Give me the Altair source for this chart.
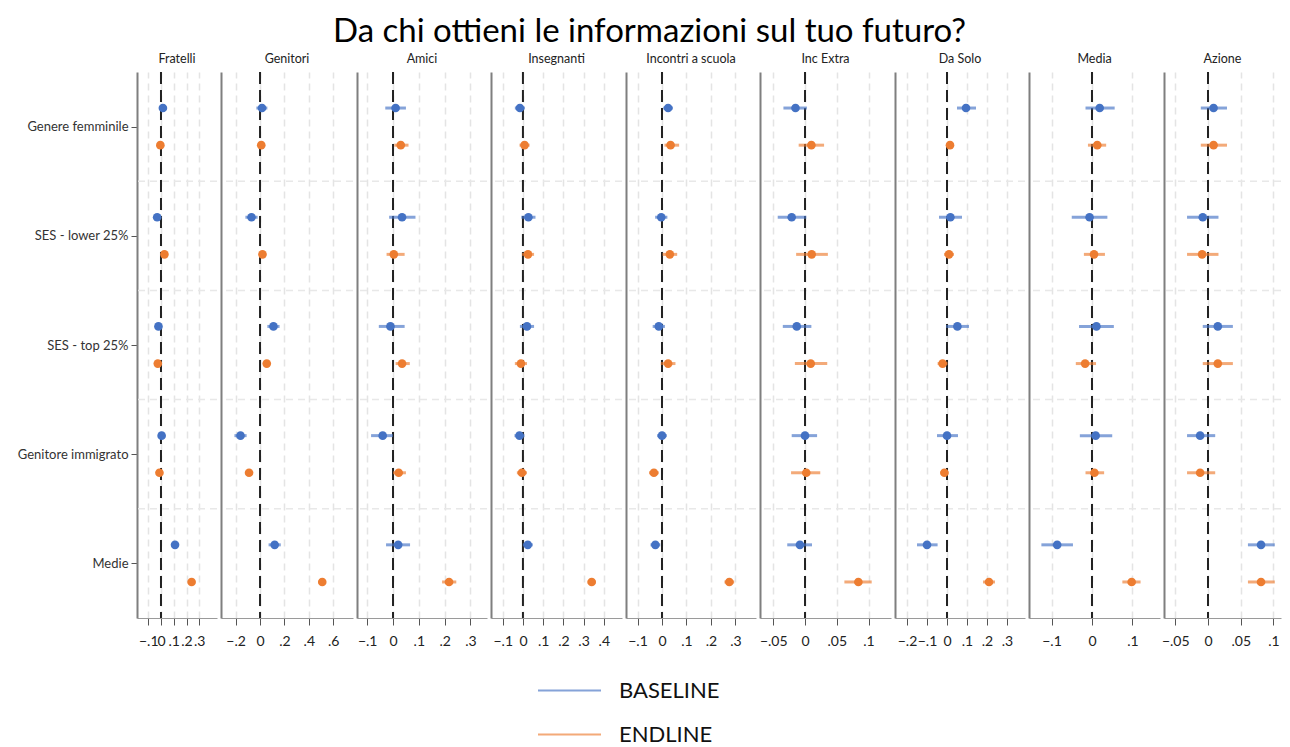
import json
import altair as alt
import pandas as pd

TITLE = "Da chi ottieni le informazioni sul tuo futuro?"
panels = ["Fratelli", "Genitori", "Amici", "Insegnanti", "Incontri a scuola",
          "Inc Extra", "Da Solo", "Media", "Azione"]
groups = ["Genere femminile", "SES - lower 25%", "SES - top 25%",
          "Genitore immigrato", "Medie"]
waves = ["BASELINE", "ENDLINE"]

# coefficient estimates and confidence intervals, one list per panel (order = groups)
base_coef = {
    "Fratelli": [0.015, -0.03, -0.02, 0.005, 0.11],
    "Genitori": [0.016, -0.07, 0.11, -0.16, 0.12],
    "Amici": [0.01, 0.035, -0.01, -0.04, 0.02],
    "Insegnanti": [-0.015, 0.027, 0.02, -0.017, 0.024],
    "Incontri a scuola": [0.025, -0.003, -0.013, 0.0, -0.027],
    "Inc Extra": [-0.015, -0.021, -0.013, 0.0, -0.008],
    "Da Solo": [0.095, 0.017, 0.052, 0.0, -0.10],
    "Media": [0.019, -0.006, 0.011, 0.009, -0.086],
    "Azione": [0.0085, -0.008, 0.015, -0.012, 0.081],
}
base_lo = {
    "Fratelli": [-0.015, -0.055, -0.045, -0.02, 0.085],
    "Genitori": [-0.03, -0.12, 0.06, -0.21, 0.07],
    "Amici": [-0.03, -0.015, -0.055, -0.085, -0.027],
    "Insegnanti": [-0.04, -0.008, -0.015, -0.042, -0.001],
    "Incontri a scuola": [0.005, -0.028, -0.038, -0.02, -0.047],
    "Inc Extra": [-0.034, -0.043, -0.035, -0.021, -0.028],
    "Da Solo": [0.05, -0.04, -0.005, -0.05, -0.15],
    "Media": [-0.016, -0.05, -0.032, -0.03, -0.125],
    "Azione": [-0.011, -0.032, -0.008, -0.032, 0.061],
}
base_hi = {
    "Fratelli": [0.045, -0.005, 0.005, 0.03, 0.135],
    "Genitori": [0.06, -0.02, 0.16, -0.11, 0.17],
    "Amici": [0.05, 0.087, 0.045, 0.0, 0.066],
    "Insegnanti": [0.01, 0.062, 0.055, 0.008, 0.049],
    "Incontri a scuola": [0.045, 0.022, 0.012, 0.02, -0.007],
    "Inc Extra": [0.003, 0.002, 0.01, 0.019, 0.011],
    "Da Solo": [0.145, 0.075, 0.11, 0.055, -0.047],
    "Media": [0.056, 0.038, 0.054, 0.05, -0.047],
    "Azione": [0.029, 0.016, 0.038, 0.011, 0.102],
}
end_coef = {
    "Fratelli": [-0.005, 0.027, -0.025, -0.012, 0.24],
    "Genitori": [0.01, 0.02, 0.055, -0.09, 0.51],
    "Amici": [0.03, 0.003, 0.035, 0.022, 0.217],
    "Insegnanti": [0.008, 0.025, -0.01, -0.005, 0.34],
    "Incontri a scuola": [0.035, 0.032, 0.025, -0.033, 0.275],
    "Inc Extra": [0.01, 0.0105, 0.009, 0.002, 0.084],
    "Da Solo": [0.015, 0.01, -0.022, -0.013, 0.21],
    "Media": [0.013, 0.005, -0.017, 0.006, 0.098],
    "Azione": [0.0085, -0.009, 0.015, -0.012, 0.081],
}
end_lo = {
    "Fratelli": [-0.02, 0.012, -0.04, -0.027, 0.225],
    "Genitori": [-0.015, -0.01, 0.025, -0.12, 0.48],
    "Amici": [0.005, -0.025, 0.01, 0.0, 0.19],
    "Insegnanti": [-0.017, -0.005, -0.04, -0.03, 0.32],
    "Incontri a scuola": [0.01, 0.002, -0.005, -0.053, 0.255],
    "Inc Extra": [-0.01, -0.014, -0.016, -0.022, 0.062],
    "Da Solo": [-0.005, -0.015, -0.047, -0.033, 0.18],
    "Media": [-0.01, -0.02, -0.04, -0.016, 0.075],
    "Azione": [-0.011, -0.032, -0.008, -0.032, 0.061],
}
end_hi = {
    "Fratelli": [0.01, 0.042, -0.01, 0.003, 0.255],
    "Genitori": [0.035, 0.05, 0.085, -0.06, 0.54],
    "Amici": [0.06, 0.045, 0.065, 0.05, 0.245],
    "Insegnanti": [0.033, 0.055, 0.02, 0.02, 0.36],
    "Incontri a scuola": [0.07, 0.062, 0.055, -0.013, 0.295],
    "Inc Extra": [0.03, 0.036, 0.035, 0.024, 0.105],
    "Da Solo": [0.035, 0.035, 0.003, 0.007, 0.24],
    "Media": [0.035, 0.032, 0.01, 0.03, 0.12],
    "Azione": [0.029, 0.016, 0.038, 0.011, 0.102],
}
ticks = {
    "Fratelli": [-0.1, 0, 0.1, 0.2, 0.3],
    "Genitori": [-0.2, 0, 0.2, 0.4, 0.6],
    "Amici": [-0.1, 0, 0.1, 0.2, 0.3],
    "Insegnanti": [-0.1, 0, 0.1, 0.2, 0.3, 0.4],
    "Incontri a scuola": [-0.1, 0, 0.1, 0.2, 0.3],
    "Inc Extra": [-0.05, 0, 0.05, 0.1],
    "Da Solo": [-0.2, -0.1, 0, 0.1, 0.2, 0.3],
    "Media": [-0.1, 0, 0.1],
    "Azione": [-0.05, 0, 0.05, 0.1],
}

# layout (pixel widths and visible x ranges of each panel)
panel_width = [80, 132, 130, 131, 130, 131, 130, 131, 117]
panel_domain = [[-0.188, 0.439], [-0.320, 0.762], [-0.1395, 0.364], [-0.158, 0.490],
                [-0.147, 0.384], [-0.0709, 0.1354], [-0.26, 0.39], [-0.1556, 0.168],
                [-0.0672, 0.1115]]
PLOT_H = 546
FONT = "Lato"
BLUE = "#4472C4"
ORANGE = "#ED7D31"
OFF = 0.17

rows = []
for p in panels:
    for gi, g in enumerate(groups):
        rows.append(dict(panel=p, group=g, wave=waves[0], pos=gi + 0.5 - OFF,
                         coef=base_coef[p][gi], lo=base_lo[p][gi], hi=base_hi[p][gi]))
        rows.append(dict(panel=p, group=g, wave=waves[1], pos=gi + 0.5 + OFF,
                         coef=end_coef[p][gi], lo=end_lo[p][gi], hi=end_hi[p][gi]))
df = pd.DataFrame(rows)
sep_df = pd.DataFrame({"sep": [1, 2, 3, 4]})
zero_df = pd.DataFrame({"z": [0]})

label_expr = json.dumps(groups) + "[floor(datum.value)]"
x_label_expr = "replace(format(datum.value, ''), '0.', '.')"
color_scale = alt.Scale(domain=waves, range=[BLUE, ORANGE])

charts = []
for k, p in enumerate(panels):
    d = df[df.panel == p]
    xscale = alt.Scale(domain=panel_domain[k], nice=False, zero=False)
    yscale = alt.Scale(domain=[0, 5], reverse=True, nice=False, zero=False)
    xaxis = alt.Axis(values=ticks[p], tickCount=20, title=None, grid=True,
                     labelExpr=x_label_expr,
                     gridColor="#e4e4e4", gridDash=[7, 5], gridWidth=1.5,
                     tickColor="#555555", tickSize=7, tickWidth=1,
                     labelFontSize=14, labelColor="#222222", labelPadding=9,
                     domain=True, domainColor="#9a9a9a", domainWidth=1,
                     labelFlush=False, labelOverlap=False)
    if k == 0:
        yaxis = alt.Axis(values=[0.5, 1.5, 2.5, 3.5, 4.5], tickCount=20,
                         labelExpr=label_expr,
                         title=None, grid=False, ticks=True, tickSize=6,
                         tickColor="#555555", labelFontSize=13, labelColor="#333333",
                         labelPadding=3, domainColor="#7f7f7f", domainWidth=2)
    else:
        yaxis = alt.Axis(labels=False, ticks=False, grid=False, title=None,
                         domainColor="#7f7f7f", domainWidth=2)

    seps = alt.Chart(sep_df).mark_rule(color="#e8e8e8", strokeDash=[7, 5],
                                       strokeWidth=1.5).encode(
        y=alt.Y("sep:Q", scale=yscale, axis=yaxis))
    zero = alt.Chart(zero_df).mark_rule(color="#222222", strokeDash=[12, 6],
                                        strokeWidth=2).encode(
        x=alt.X("z:Q", scale=xscale, axis=xaxis))
    ci = alt.Chart(d).mark_rule(strokeWidth=3, opacity=0.65).encode(
        x=alt.X("lo:Q", scale=xscale),
        x2="hi:Q",
        y=alt.Y("pos:Q", scale=yscale),
        color=alt.Color("wave:N", scale=color_scale, legend=alt.Legend(title=None)))
    pts = alt.Chart(d).mark_circle(size=75, opacity=1).encode(
        x=alt.X("coef:Q", scale=xscale),
        y=alt.Y("pos:Q", scale=yscale),
        color=alt.Color("wave:N", scale=color_scale, legend=None))
    panel = alt.layer(seps, zero, ci, pts).properties(
        width=panel_width[k], height=PLOT_H,
        title=alt.TitleParams(p, fontSize=12.5, font=FONT, fontWeight="normal",
                              color="#222222", offset=6))
    charts.append(panel)

chart = alt.hconcat(*charts, spacing=4, bounds="flush").properties(
    title=alt.TitleParams(TITLE, fontSize=33, font=FONT, fontWeight="normal",
                          color="#000000", anchor="middle", offset=4),
    padding={"left": 9, "top": 7, "right": 0, "bottom": 0},
).configure_view(stroke=None).configure_axis(
    labelFont=FONT
).configure_legend(
    orient="none", legendX=400, legendY=586, direction="vertical",
    symbolType="stroke", symbolSize=3969, symbolStrokeWidth=2,
    labelFontSize=22, labelFont=FONT, labelColor="#111111",
    rowPadding=-21, labelOffset=17
)

chart.save("out.html", embed_options={"renderer": "svg", "actions": False})
